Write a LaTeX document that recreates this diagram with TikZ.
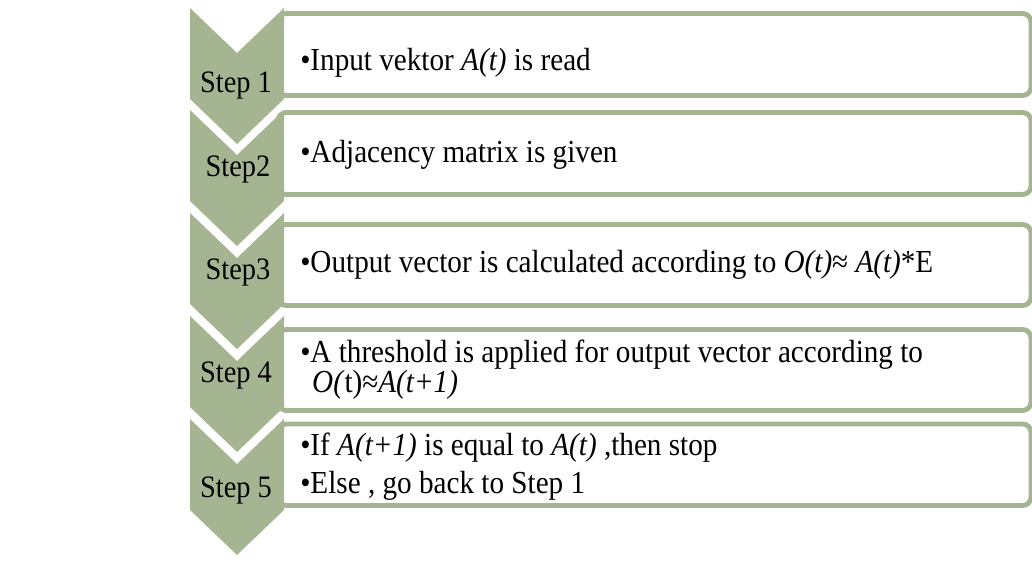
\documentclass[tikz,border=0pt]{standalone}
\usepackage{fontspec}
\setmainfont{Liberation Serif}[FakeStretch=0.91]
\usepackage{xcolor}
\definecolor{olive}{HTML}{A5B592}

\begin{document}
\begin{tikzpicture}[x=0.025cm,y=-0.025cm,
  chevron/.style={fill=olive,draw=none},
  listbox/.style={draw=olive,line width=3.5pt,fill=white,rounded corners=6pt},
  steplabel/.style={font=\fontsize{22.2}{24}\selectfont,anchor=base,inner sep=0pt},
  itemtext/.style={font=\fontsize{22.8}{19.9}\selectfont,anchor=base west,inner sep=0pt,align=left}]
  \useasboundingbox (0,0) rectangle (1032,576);

  % Step 1
  \draw[listbox] (278,13.5) rectangle (1031,95.5);
  \fill[chevron] (190,8) -- (237,53) -- (284,8) -- (284,99) -- (237,144) -- (190,99) -- cycle;
  \node[steplabel] (s1) at (236,93) {Step 1};
  \node[itemtext] (t1) at (300,71) {•Input vektor \textit{A(t)} is read};

  % Step 2
  \draw[listbox] (278,112.5) rectangle (1031,194.5);
  \fill[chevron] (190,110) -- (237,155) -- (284,110) -- (284,201) -- (237,246) -- (190,201) -- cycle;
  \node[steplabel] (s2) at (238,177) {Step2};
  \node[itemtext] (t2) at (300,163) {•Adjacency matrix is given};

  % Step 3
  \draw[listbox] (278,224.5) rectangle (1031,305.5);
  \fill[chevron] (190,213) -- (237,258) -- (284,213) -- (284,304) -- (237,349) -- (190,304) -- cycle;
  \node[steplabel] (s3) at (238,280) {Step3};
  \node[itemtext] (t3) at (300,273) {•Output vector is calculated according to \textit{O(t)}≈ \textit{A(t)}*E};

  % Step 4 (base of the node is its last line)
  \draw[listbox] (278,329.5) rectangle (1031,410.5);
  \fill[chevron] (190,316) -- (237,361) -- (284,316) -- (284,407) -- (237,452) -- (190,407) -- cycle;
  \node[steplabel] (s4) at (236,383) {Step 4};
  \node[itemtext] (t4) at (300,393) {•A threshold is applied for output vector according to\\
    \hspace*{8.5pt}\textit{O(}t)≈\textit{A(t+1)}};

  % Step 5
  \draw[listbox] (278,424) rectangle (1031,505.5);
  \fill[chevron] (190,419) -- (237,464) -- (284,419) -- (284,510) -- (237,555) -- (190,510) -- cycle;
  \node[steplabel] (s5) at (236,497) {Step 5};
  \node[itemtext] (t5a) at (300,455) {•If \textit{A(t+1)} is equal to \textit{A(t)} ,then stop};
  \node[itemtext] (t5b) at (300,493) {•Else , go back to Step 1};
\end{tikzpicture}
\end{document}
